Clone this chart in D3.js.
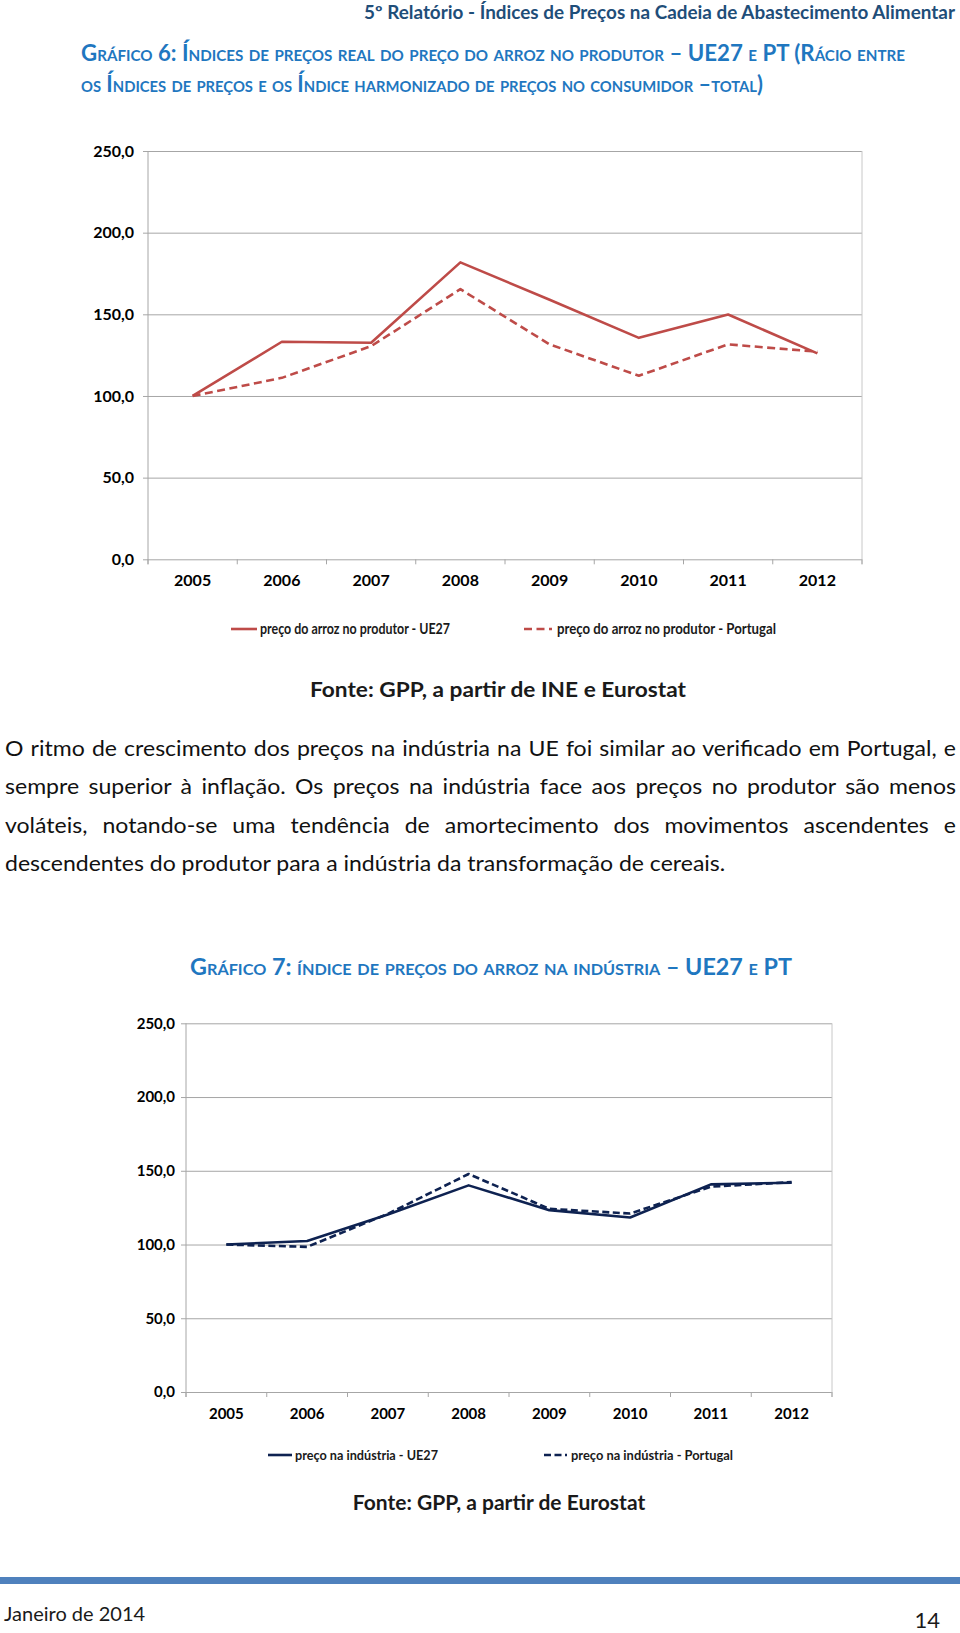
<!DOCTYPE html>
<html>
<head>
<meta charset="utf-8">
<script src="https://cdn.jsdelivr.net/npm/d3@7"></script>
<style>
  body { margin: 0; background: #fff; }
  svg { display: block; }
  text { font-family: Lato, "Open Sans", sans-serif; }
</style>
</head>
<body>
<svg id="page"></svg>
<script>
// valores
const years = ["2005", "2006", "2007", "2008", "2009", "2010", "2011", "2012"];
const produtorUE27 = [100, 133.2, 132.6, 181.8, 158.9, 135.6, 149.9, 126.1];
const produtorPT = [100, 111.1, 130.5, 165.4, 131.6, 112.4, 131.6, 127.1];
const industriaUE27 = [100, 102.4, 120.3, 140.1, 123.3, 118.3, 140.8, 141.9];
const industriaPT = [100, 98.4, 120.8, 147.8, 124.2, 121.0, 139.2, 142.3];
const yTicks = [0, 50, 100, 150, 200, 250];

const paragraph = [
  "O ritmo de crescimento dos preços na indústria na UE foi similar ao verificado em Portugal, e",
  "sempre superior à inflação. Os preços na indústria face aos preços no produtor são menos",
  "voláteis, notando-se uma tendência de amortecimento dos movimentos ascendentes e",
  "descendentes do produtor para a indústria da transformação de cereais."
];

const pt = d3.formatLocale({decimal: ",", thousands: ".", grouping: [3], currency: ["", " €"]});
const fmt = pt.format(".1f");

const svg = d3.select('#page').attr('width', 960).attr('height', 1633);
svg.append('rect').attr('width', 960).attr('height', 1633).attr('fill', '#fff');

function fit(sel, w) {
  sel.attr('textLength', w).attr('lengthAdjust', 'spacingAndGlyphs');
}

// cabeçalho
svg.append('text').attr('x', 364).attr('y', 19)
  .attr('font-size', 18).attr('font-weight', 700).attr('fill', '#1F4E79')
  .text('5º Relatório - Índices de Preços na Cadeia de Abastecimento Alimentar')
  .call(fit, 591);

// título gráfico 6
const t1 = svg.append('g').attr('fill', '#1F77C0').attr('font-weight', 700)
  .style('font-variant', 'small-caps');
t1.append('text').attr('x', 81).attr('y', 61).attr('font-size', 22)
  .text('Gráfico 6: Índices de preços real do preço do arroz no produtor – UE27 e PT (Rácio entre')
  .call(fit, 824);
t1.append('text').attr('x', 81).attr('y', 92).attr('font-size', 22)
  .text('os Índices de preços e os Índice harmonizado de preços no consumidor –total)')
  .call(fit, 682);

function drawChart(cfg) {
  const w = cfg.right - cfg.left, h = cfg.bottom - cfg.top;
  const g = svg.append('g').attr('transform', `translate(${cfg.left},${cfg.top})`);

  const x = d3.scaleBand().domain(years).range([0, w]);
  const y = d3.scaleLinear().domain([0, 250]).range([h, 0]);

  // grelha + eixo y
  const ya = g.append('g')
    .call(d3.axisLeft(y).tickValues(yTicks).tickFormat(fmt).tickSizeInner(-w).tickSizeOuter(0).tickPadding(cfg.yPad));
  ya.select('.domain').remove();
  ya.selectAll('.tick line').attr('x1', -5).attr('stroke', '#A6A6A6').attr('stroke-width', 1);
  ya.selectAll('.tick text').attr('font-size', cfg.tickSize).attr('font-weight', 700)
    .attr('fill', '#000').attr('font-family', 'Lato, sans-serif');

  g.append('line').attr('x1', 0).attr('x2', 0).attr('y1', 0).attr('y2', h + 5)
    .attr('stroke', '#A6A6A6');
  g.append('line').attr('x1', w).attr('x2', w).attr('y1', 0).attr('y2', h + 5)
    .attr('stroke', '#C8C8C8');

  // eixo x
  const xa = g.append('g').attr('transform', `translate(0,${h})`)
    .call(d3.axisBottom(x).tickSize(0).tickPadding(cfg.xPad));
  xa.select('.domain').remove();
  xa.selectAll('.tick text').attr('font-size', cfg.tickSize).attr('font-weight', 700)
    .attr('fill', '#000').attr('font-family', 'Lato, sans-serif');
  g.append('g').selectAll('line').data(d3.range(years.length + 1)).join('line')
    .attr('x1', i => i * x.step()).attr('x2', i => i * x.step())
    .attr('y1', h).attr('y2', h + 5).attr('stroke', '#A6A6A6');

  const line = d3.line().x((d, i) => x(years[i]) + x.bandwidth() / 2).y(d => y(d));
  cfg.series.forEach(s => {
    g.append('path').datum(s.values).attr('d', line)
      .attr('fill', 'none').attr('stroke', cfg.color).attr('stroke-width', 2.6)
      .attr('stroke-linejoin', 'round')
      .attr('stroke-dasharray', s.dashed ? cfg.dash : null);
  });

  // legenda
  cfg.legend.forEach((it, i) => {
    const s = cfg.series[i];
    svg.append('line').attr('x1', it.x1).attr('x2', it.x2).attr('y1', it.y).attr('y2', it.y)
      .attr('stroke', cfg.color).attr('stroke-width', 2.6)
      .attr('stroke-dasharray', s.dashed ? cfg.dash : null);
    svg.append('text').attr('x', it.tx).attr('y', it.y).attr('dy', '0.35em')
      .attr('font-size', cfg.legendSize).attr('font-weight', 700).attr('fill', '#1a1a1a')
      .text(s.name).call(fit, it.tw);
  });
}

drawChart({
  left: 148, right: 862, top: 151, bottom: 559.3,
  yPad: 14, xPad: 15, tickSize: 16, legendSize: 15,
  color: '#BE4B48', dash: '8,4.5',
  series: [
    {name: 'preço do arroz no produtor - UE27', values: produtorUE27, dashed: false},
    {name: 'preço do arroz no produtor - Portugal', values: produtorPT, dashed: true}
  ],
  legend: [
    {x1: 231, x2: 257, tx: 260, tw: 190, y: 629},
    {x1: 524, x2: 552, tx: 557, tw: 219, y: 629}
  ]
});

svg.append('text').attr('x', 310).attr('y', 697)
  .attr('font-size', 21).attr('font-weight', 700).attr('fill', '#1a1a1a')
  .text('Fonte: GPP, a partir de INE e Eurostat')
  .call(fit, 376);

// parágrafo justificado
const para = svg.append('g');
const lines = para.selectAll('text').data(paragraph).join('text')
  .attr('x', 0).attr('y', (d, i) => 756 + i * 38.5)
  .attr('font-size', 21.5).attr('fill', '#111').text(d => d);
const k = 721 / lines.nodes()[3].getComputedTextLength();
para.attr('transform', `translate(5,0) scale(${k},1)`);
lines.each(function (d, i) {
  if (i < 3) {
    const nat = this.getComputedTextLength();
    const spaces = d.split(' ').length - 1;
    d3.select(this).attr('word-spacing', (951 / k - nat) / spaces);
  }
});

// título gráfico 7
svg.append('text').attr('x', 190).attr('y', 975).attr('font-size', 23)
  .attr('font-weight', 700).attr('fill', '#1F77C0').style('font-variant', 'small-caps')
  .text('Gráfico 7: índice de preços do arroz na indústria – UE27 e PT')
  .call(fit, 602);

drawChart({
  left: 186, right: 832, top: 1023.3, bottom: 1392,
  yPad: 11, xPad: 16, tickSize: 15, legendSize: 13,
  color: '#0E2251', dash: '7,3.5',
  series: [
    {name: 'preço na indústria - UE27', values: industriaUE27, dashed: false},
    {name: 'preço na indústria - Portugal', values: industriaPT, dashed: true}
  ],
  legend: [
    {x1: 268, x2: 292, tx: 295, tw: 143, y: 1455},
    {x1: 544, x2: 567, tx: 571, tw: 162, y: 1455}
  ]
});

svg.append('text').attr('x', 499).attr('y', 1510).attr('text-anchor', 'middle')
  .attr('font-size', 21).attr('font-weight', 700).attr('fill', '#1a1a1a')
  .text('Fonte: GPP, a partir de Eurostat');

// rodapé
svg.append('rect').attr('x', 0).attr('y', 1577).attr('width', 960).attr('height', 7)
  .attr('fill', '#4F81BD');
svg.append('text').attr('x', 4).attr('y', 1621).attr('font-size', 20).attr('fill', '#1a1a1a')
  .text('Janeiro de 2014');
svg.append('text').attr('x', 940).attr('y', 1628).attr('text-anchor', 'end')
  .attr('font-size', 22).attr('fill', '#1a1a1a').text('14');
</script>
</body>
</html>
